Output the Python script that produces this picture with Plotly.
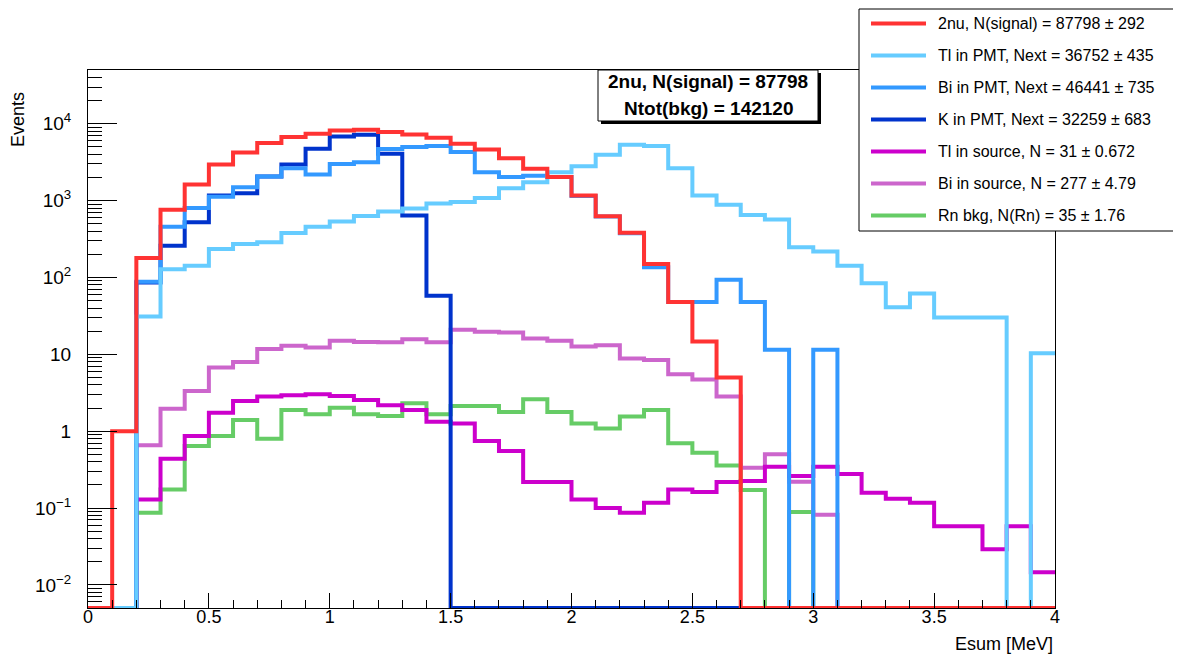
import math
import plotly.graph_objects as go

# ---------------- data (bin contents, 0.1 MeV bins from 0 to 4 MeV) ----------------
energy_edges = [0.0, 0.1, 0.2, 0.3, 0.4, 0.5, 0.6, 0.7, 0.8, 0.9,
                1.0, 1.1, 1.2, 1.3, 1.4, 1.5, 1.6, 1.7, 1.8, 1.9,
                2.0, 2.1, 2.2, 2.3, 2.4, 2.5, 2.6, 2.7, 2.8, 2.9,
                3.0, 3.1, 3.2, 3.3, 3.4, 3.5, 3.6, 3.7, 3.8, 3.9, 4.0]

two_nu = [0, 1.0, 179, 757, 1620, 2950, 4230, 5600, 6700, 7410,
          8180, 8350, 7790, 7260, 6560, 5480, 4620, 3560, 2590, 2020,
          1160, 625, 380, 150, 48, 14.7, 5.0, 0, 0, 0,
          0, 0, 0, 0, 0, 0, 0, 0, 0, 0]

tl_pmt = [0, 0, 31, 128, 142, 234, 272, 286, 378, 455,
          535, 630, 723, 791, 914, 960, 1080, 1450, 1730, 2340,
          2800, 3950, 5320, 5120, 2640, 1160, 880, 651, 566, 247,
          217, 142, 84, 41, 62, 30, 30, 30, 0, 10.3]

bi_pmt = [0, 0, 88, 458, 803, 1120, 1490, 2050, 2640, 2180,
          3000, 3160, 4680, 4970, 5120, 4280, 2340, 2020, 2100, 2020,
          1150, 620, 375, 136, 48, 48, 93, 48, 11.5, 0,
          11.5, 0, 0, 0, 0, 0, 0, 0, 0, 0]

k_pmt = [0, 0, 86, 259, 522, 1160, 1250, 2050, 2950, 4720,
         6820, 7200, 4060, 638, 57.7, 0, 0, 0, 0, 0,
         0, 0, 0, 0, 0, 0, 0, 0, 0, 0,
         0, 0, 0, 0, 0, 0, 0, 0, 0, 0]

tl_source = [0, 0, 0.129, 0.438, 0.863, 1.74, 2.47, 2.82, 2.93, 3.02,
             2.87, 2.55, 2.17, 1.89, 1.33, 1.26, 0.745, 0.552, 0.218, 0.218,
             0.129, 0.100, 0.087, 0.117, 0.174, 0.161, 0.218, 0.225, 0.344, 0.26,
             0.344, 0.276, 0.158, 0.132, 0.117, 0.058, 0.058, 0.029, 0.058, 0.0146]

bi_source = [0, 0, 0.653, 1.96, 3.33, 6.73, 7.96, 11.7, 12.9, 12.3,
             15.0, 14.5, 14.3, 15.7, 14.3, 20.8, 19.6, 19.2, 16.1, 15.0,
             12.6, 13.1, 8.8, 8.45, 5.5, 4.7, 2.82, 0.334, 0.50, 0.22,
             0.082, 0, 0, 0, 0, 0, 0, 0, 0, 0]

rn_bkg = [0, 0, 0.087, 0.174, 0.64, 0.863, 1.40, 0.798, 1.89, 1.66,
          2.02, 1.66, 1.57, 2.3, 1.66, 2.13, 2.13, 1.78, 2.6, 1.78,
          1.26, 1.08, 1.55, 1.89, 0.694, 0.525, 0.358, 0.171, 0, 0.089,
          0, 0, 0, 0, 0, 0, 0, 0, 0, 0]

legend_labels = [
    "2nu, N(signal) = 87798 \u00b1 292",
    "Tl in PMT, Next = 36752 \u00b1 435",
    "Bi in PMT, Next = 46441 \u00b1 735",
    "K in PMT, Next = 32259 \u00b1 683",
    "Tl in source, N = 31 \u00b1 0.672",
    "Bi in source, N = 277 \u00b1 4.79",
    "Rn bkg, N(Rn) = 35 \u00b1 1.76",
]
info_lines = ["2nu, N(signal) = 87798", "Ntot(bkg) = 142120"]

y_tick_vals = [0.01, 0.1, 1, 10, 100, 1000, 10000]
y_tick_text = ["10<sup>\u22122</sup>", "10<sup>\u22121</sup>", "1", "10",
               "10<sup>2</sup>", "10<sup>3</sup>", "10<sup>4</sup>"]

# ---------------- style ----------------
FONT = "Liberation Sans, Arial, Helvetica, sans-serif"
Y_MIN, Y_MAX = 0.005, 5.0e4
colors = {
    "two_nu": "#ff3333",
    "tl_pmt": "#66ccff",
    "bi_pmt": "#3399ff",
    "k_pmt": "#0033cc",
    "tl_source": "#cc00cc",
    "bi_source": "#cc66cc",
    "rn_bkg": "#66cc66",
}
series = [
    ("two_nu", two_nu), ("tl_pmt", tl_pmt), ("bi_pmt", bi_pmt), ("k_pmt", k_pmt),
    ("tl_source", tl_source), ("bi_source", bi_source), ("rn_bkg", rn_bkg),
]
draw_order = ["rn_bkg", "bi_source", "tl_source", "k_pmt", "bi_pmt", "tl_pmt", "two_nu"]

# window geometry (the page body has an 8px margin)
WIN_W, WIN_H, OFF = 1181, 657, 8
L, R, T, B = 88, 1055, 70, 608


def px(xp):
    return (xp - L) / (R - L)


def py(yp):
    return (B - yp) / (B - T)


fig = go.Figure()
data_map = dict(series)
label_map = {k: lab for (k, _), lab in zip(series, legend_labels)}
for key in draw_order:
    vals = data_map[key]
    yv = [v if v > 0 else Y_MIN for v in vals]
    fig.add_trace(go.Scatter(
        x=energy_edges, y=yv + [yv[-1]], mode="lines", line_shape="hv",
        line=dict(color=colors[key], width=4), name=label_map[key],
        showlegend=False, hoverinfo="skip"))

# minor tick positions for the log axis
minor_vals = []
for e in range(-3, 5):
    for m in range(2, 10):
        v = m * 10 ** e
        if Y_MIN < v < Y_MAX:
            minor_vals.append(v)

fig.update_layout(
    width=WIN_W - OFF, height=WIN_H - OFF,
    margin=dict(l=L - OFF, r=WIN_W - R, t=T - OFF, b=WIN_H - B, pad=0),
    paper_bgcolor="white", plot_bgcolor="white",
    font=dict(family=FONT, size=17, color="black"),
    xaxis=dict(range=[0, 4], showline=True, linecolor="black", linewidth=1, mirror=True,
               ticks="inside", ticklen=15, tickwidth=1, tickcolor="black",
               tick0=0, dtick=0.5, showgrid=False, zeroline=False,
               tickfont=dict(size=18), ticklabelstandoff=-8,
               minor=dict(ticks="inside", ticklen=8, dtick=0.1, tickcolor="black", showgrid=False)),
    yaxis=dict(type="log", range=[math.log10(Y_MIN), math.log10(Y_MAX)],
               showline=True, linecolor="black", linewidth=1, mirror=True,
               ticks="inside", ticklen=29, tickwidth=1, tickcolor="black",
               tickmode="array", tickvals=y_tick_vals, ticktext=y_tick_text,
               showgrid=False, zeroline=False, tickfont=dict(size=19), ticklabelstandoff=12,
               minor=dict(ticks="inside", ticklen=14, tickmode="array", tickvals=minor_vals,
                          tickcolor="black", showgrid=False)),
)

shapes = []
annotations = []

# axis titles
annotations.append(dict(text="Events", xref="paper", yref="paper", x=px(18), y=py(120),
                        textangle=-90, showarrow=False, xanchor="center", yanchor="middle",
                        font=dict(size=18)))
annotations.append(dict(text="Esum [MeV]", xref="paper", yref="paper", x=1.0, y=py(644),
                        showarrow=False, xanchor="right", yanchor="middle", font=dict(size=18)))

# info box with shadow
bx0, bx1, by0, by1 = 598, 818, 70, 121
shapes.append(dict(type="rect", xref="paper", yref="paper", x0=px(bx0 + 3), x1=px(bx1 + 3),
                   y0=py(by1 + 3), y1=py(by0 + 3), fillcolor="black", line=dict(width=0)))
shapes.append(dict(type="rect", xref="paper", yref="paper", x0=px(bx0), x1=px(bx1),
                   y0=py(by1), y1=py(by0), fillcolor="white", line=dict(color="black", width=1)))
for i, line in enumerate(info_lines):
    annotations.append(dict(text="<b>" + line + "</b>", xref="paper", yref="paper",
                            x=px((bx0 + bx1) / 2), y=py(82 + 26 * i), showarrow=False,
                            xanchor="center", yanchor="middle", font=dict(size=19)))

# legend box
lx0, lx1, ly0, ly1 = 859, 1176, 9, 231
shapes.append(dict(type="rect", xref="paper", yref="paper", x0=px(lx0), x1=px(lx1),
                   y0=py(ly1), y1=py(ly0), fillcolor="white", line=dict(color="black", width=1)))
for i, (key, _) in enumerate(series):
    yc = 23.5 + 32 * i
    shapes.append(dict(type="line", xref="paper", yref="paper", x0=px(871), x1=px(926),
                       y0=py(yc), y1=py(yc), line=dict(color=colors[key], width=4)))
    annotations.append(dict(text=legend_labels[i], xref="paper", yref="paper", x=px(936),
                            y=py(yc), showarrow=False, xanchor="left", yanchor="middle",
                            font=dict(size=16)))

fig.update_layout(shapes=shapes, annotations=annotations)
fig.write_html("out.html")
